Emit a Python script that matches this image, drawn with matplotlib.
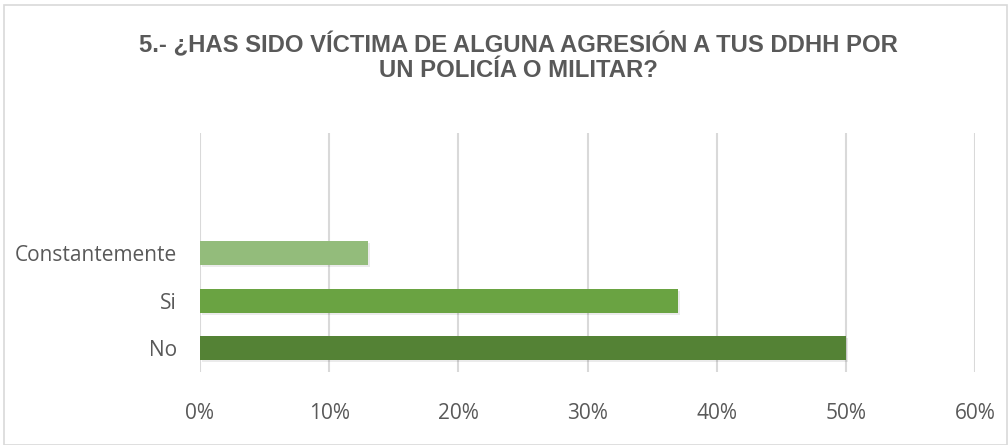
import matplotlib.pyplot as plt
import matplotlib.patheffects as pe
from matplotlib.patches import Rectangle
from matplotlib.ticker import PercentFormatter

# Data
categories = ['No', 'Si', 'Constantemente']
values = [50, 37, 13]
colors = ['#548235', '#6AA342', '#93BC7B']
xticks = [0, 10, 20, 30, 40, 50, 60]

title = '5.- ¿HAS SIDO VÍCTIMA DE ALGUNA AGRESIÓN A TUS DDHH POR\nUN POLICÍA O MILITAR?'

fig = plt.figure(figsize=(10.08, 4.45), dpi=100)
ax = fig.add_axes([0.1984, 0.164, 0.7689, 0.537])

bars = ax.barh(range(len(categories)), values, height=0.5, color=colors, zorder=3)
for b in bars:
    b.set_path_effects([pe.SimplePatchShadow(offset=(1.5, -1.5), shadow_rgbFace='#000000', alpha=0.08),
                        pe.Normal()])

ax.set_xlim(0, 60)
ax.set_ylim(-0.5, 4.53)
ax.set_xticks(xticks)
ax.xaxis.set_major_formatter(PercentFormatter(decimals=0))
ax.set_yticks(range(len(categories)))
ax.set_yticklabels(categories)

ax.grid(axis='x', color='#D9D9D9', linewidth=1.5, zorder=0)
ax.set_axisbelow(True)
for s in ax.spines.values():
    s.set_visible(False)
ax.tick_params(axis='both', length=0, labelsize=15, labelcolor='#595959')
ax.tick_params(axis='x', pad=22)
ax.tick_params(axis='y', pad=16.5)
for lbl in ax.get_xticklabels() + ax.get_yticklabels():
    lbl.set_fontfamily('Open Sans')

fig.text(0.514, 0.871, title, ha='center', va='center', fontsize=17.2,
         fontweight='bold', color='#595959', family='Liberation Sans',
         linespacing=1.1)

# chart border
fig.patches.append(Rectangle((0.004, 0.0), 0.995, 0.988, transform=fig.transFigure,
                             fill=False, edgecolor='#D9D9D9', linewidth=1.2))

fig.savefig('out.png', dpi=100)
plt.close()
